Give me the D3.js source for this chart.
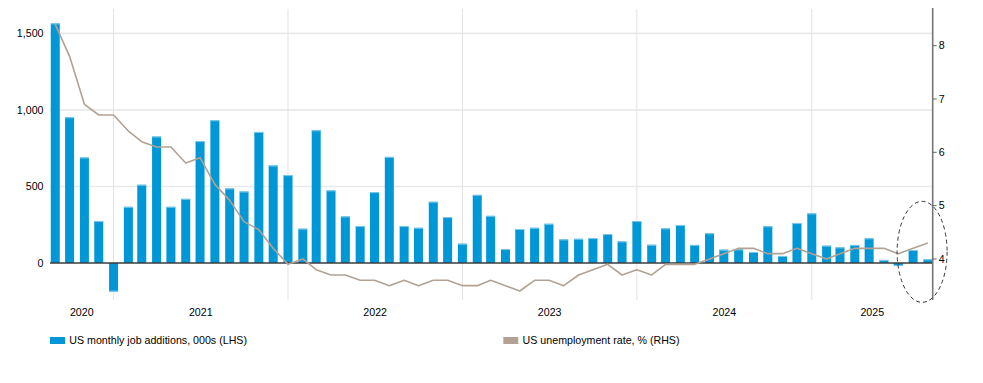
<!DOCTYPE html>
<html>
<head>
<meta charset="utf-8">
<script src="https://cdn.jsdelivr.net/npm/d3@7"></script>
<style>
  html, body { margin: 0; padding: 0; background: #ffffff; }
  svg { display: block; }
  text { font-family: "Liberation Sans", Arial, sans-serif; font-size: 10.67px; fill: #000; }
</style>
</head>
<body>
<svg id="chart" width="983" height="383"></svg>
<script>
// ---- data (months Aug 2020 .. Aug 2025) ----
const startMonth = "2020-08";
const jobAdditions = [
  1565, 952, 689, 274, -187,
  367, 511, 826, 367, 419, 796, 932, 487, 467, 856, 637, 574,
  224, 867, 474, 304, 241, 463, 693, 241, 230, 400, 300, 126,
  445, 308, 91, 222, 230, 256, 154, 158, 163, 189, 141, 274,
  119, 226, 248, 118, 194, 87, 89, 72, 240, 46, 261, 324,
  113, 102, 118, 161, 20, -20, 85, 24
];
const unemploymentRate = [
  8.4, 7.8, 6.9, 6.7, 6.7,
  6.4, 6.2, 6.1, 6.1, 5.8, 5.9, 5.4, 5.1, 4.7, 4.55, 4.2, 3.9,
  4.0, 3.8, 3.7, 3.7, 3.6, 3.6, 3.5, 3.6, 3.5, 3.6, 3.6, 3.5,
  3.5, 3.6, 3.5, 3.4, 3.6, 3.6, 3.5, 3.7, 3.8, 3.9, 3.7, 3.8,
  3.7, 3.9, 3.9, 3.9, 4.0, 4.1, 4.2, 4.2, 4.1, 4.1, 4.2, 4.1,
  4.0, 4.1, 4.2, 4.2, 4.2, 4.1, 4.2, 4.3
];
const yearLabels = ["2020", "2021", "2022", "2023", "2024", "2025"];
const leftTicks = [0, 500, 1000, 1500];
const rightTicks = [4, 5, 6, 7, 8];
const legendLabels = ["US monthly job additions, 000s (LHS)", "US unemployment rate, % (RHS)"];

// ---- layout ----
const svg = d3.select("#chart");
const plot = { left: 50, right: 932.7, top: 9, bottom: 300 };
const barColor = "#0097d7";
const lineColor = "#b1a294";

const parseMonth = d3.utcParse("%Y-%m");
const first = parseMonth(startMonth);
// each monthly observation is placed at the end of its month
const data = jobAdditions.map((v, i) => ({
  date: d3.utcMonth.offset(first, i + 1),
  jobs: v,
  rate: unemploymentRate[i]
}));

const x = d3.scaleUtc()
  .domain([new Date(Date.UTC(2020, 7, 21)), new Date(Date.UTC(2025, 8, 11))])
  .range([plot.left, plot.right]);
const yL = d3.scaleLinear().domain([-241.7, 1659]).range([plot.bottom, plot.top]);
const yR = d3.scaleLinear().domain([3.231, 8.688]).range([plot.bottom, plot.top]);

// horizontal gridlines
svg.append("g").selectAll("line").data(leftTicks.filter(d => d !== 0)).join("line")
  .attr("x1", plot.left).attr("x2", plot.right)
  .attr("y1", d => yL(d)).attr("y2", d => yL(d))
  .attr("stroke", "#e9e9e9").attr("stroke-width", 1.6);

// vertical year gridlines
const yearStarts = yearLabels.map(y => new Date(Date.UTC(+y, 0, 1)));
svg.append("g").selectAll("line").data(yearStarts.slice(1)).join("line")
  .attr("x1", d => x(d)).attr("x2", d => x(d))
  .attr("y1", plot.top).attr("y2", plot.bottom)
  .attr("stroke", "#e2e2e2").attr("stroke-width", 1);

// left tick labels
svg.append("g").selectAll("text").data(leftTicks).join("text")
  .attr("x", 43.5).attr("y", d => yL(d)).attr("dy", "0.35em")
  .attr("text-anchor", "end")
  .text(d => d3.format(",")(d));

// bars
const barW = 9;
svg.append("g").selectAll("rect").data(data).join("rect")
  .attr("x", d => x(d.date) - barW / 2)
  .attr("width", barW)
  .attr("y", d => Math.min(yL(d.jobs), yL(0)))
  .attr("height", d => Math.abs(yL(d.jobs) - yL(0)))
  .attr("fill", barColor);
// light edge at bar ends
svg.append("g").selectAll("line").data(data).join("line")
  .attr("x1", d => x(d.date) - barW / 2).attr("x2", d => x(d.date) + barW / 2)
  .attr("y1", d => yL(d.jobs) + (d.jobs >= 0 ? 0.5 : -0.5))
  .attr("y2", d => yL(d.jobs) + (d.jobs >= 0 ? 0.5 : -0.5))
  .attr("stroke", "#7fc9ec").attr("stroke-width", 1);

// zero line
svg.append("line")
  .attr("x1", plot.left).attr("x2", plot.right)
  .attr("y1", yL(0)).attr("y2", yL(0))
  .attr("stroke", "#3c3c3c").attr("stroke-width", 1.4);

// unemployment line
svg.append("path").datum(data)
  .attr("fill", "none").attr("stroke", lineColor).attr("stroke-width", 1.6)
  .attr("stroke-linejoin", "round")
  .attr("d", d3.line().x(d => x(d.date)).y(d => yR(d.rate)));

// right axis
const rAxis = svg.append("g");
rAxis.append("line")
  .attr("x1", plot.right).attr("x2", plot.right)
  .attr("y1", plot.top - 1).attr("y2", plot.bottom)
  .attr("stroke", "#767676").attr("stroke-width", 1.6);
rAxis.selectAll("line.tick").data(rightTicks).join("line").attr("class", "tick")
  .attr("x1", plot.right).attr("x2", plot.right + 4)
  .attr("y1", d => yR(d)).attr("y2", d => yR(d))
  .attr("stroke", "#666").attr("stroke-width", 1);
rAxis.selectAll("text").data(rightTicks).join("text")
  .attr("x", plot.right + 6).attr("y", d => yR(d)).attr("dy", "0.35em")
  .text(d => d);

// year labels centred in each visible year span
const dom = x.domain();
svg.append("g").selectAll("text").data(yearLabels).join("text")
  .attr("x", (d, i) => {
    const a = Math.max(+yearStarts[i], +dom[0]);
    const b = Math.min(+new Date(Date.UTC(+d + 1, 0, 1)), +dom[1]);
    return (x(new Date(a)) + x(new Date(b))) / 2;
  })
  .attr("y", 312).attr("dy", "0.35em")
  .attr("text-anchor", "middle")
  .text(d => d);

// dashed ellipse highlighting the latest months
const lastDate = data[data.length - 1].date;
svg.append("ellipse")
  .attr("cx", x(d3.utcMonth.offset(lastDate, -1)) + 9)
  .attr("cy", (yR(5.09) + yL(-260)) / 2)
  .attr("rx", 25).attr("ry", 50.5)
  .attr("fill", "none").attr("stroke", "#333").attr("stroke-width", 1)
  .attr("stroke-dasharray", "4,3");

// legend
const legend = svg.append("g");
const legendItems = [
  { label: legendLabels[0], color: barColor, x: 50 },
  { label: legendLabels[1], color: lineColor, x: 503.3 }
];
legendItems.forEach(it => {
  legend.append("rect").attr("x", it.x).attr("y", 337).attr("width", 15).attr("height", 7)
    .attr("fill", it.color);
  legend.append("text").attr("x", it.x + 19.3).attr("y", 340.7).attr("dy", "0.35em")
    .text(it.label);
});
</script>
</body>
</html>
